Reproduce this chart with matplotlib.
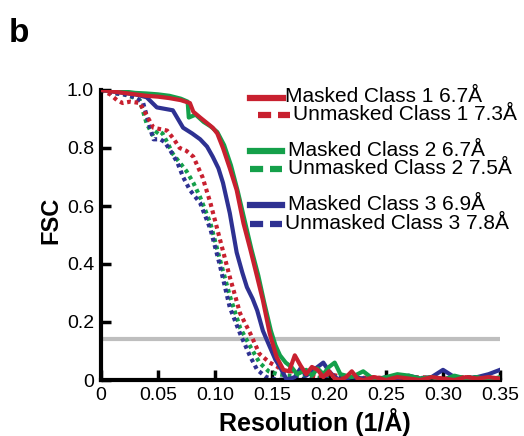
import matplotlib
matplotlib.use("Agg")
import matplotlib.pyplot as plt
from matplotlib.lines import Line2D

plt.rcParams['font.family'] = ['Liberation Sans', 'DejaVu Sans']

# FSC curves
m1_x = [0, 0.01, 0.02, 0.03, 0.04, 0.05, 0.06, 0.07, 0.078, 0.081, 0.087, 0.093, 0.098,
        0.102, 0.107, 0.113, 0.119, 0.125, 0.131, 0.137, 0.142, 0.148, 0.154, 0.160, 0.165,
        0.170, 0.175, 0.180, 0.185, 0.190, 0.195, 0.200, 0.205, 0.210, 0.215, 0.220, 0.225,
        0.230, 0.240, 0.250, 0.260, 0.270, 0.280, 0.290, 0.300, 0.310, 0.320, 0.330, 0.340, 0.350]
m1_y = [1.0, 0.995, 0.99, 0.985, 0.98, 0.977, 0.972, 0.965, 0.955, 0.925, 0.905, 0.886, 0.87,
        0.85, 0.80, 0.73, 0.655, 0.54, 0.45, 0.355, 0.275, 0.16, 0.08, 0.035, 0.03,
        0.085, 0.05, 0.02, 0.045, 0.035, 0.01, 0.03, 0.005, 0.0, 0.01, 0.03, 0.005,
        0.0, 0.01, 0.0, 0.01, 0.005, 0.0, 0.01, 0.005, 0.0, 0.01, 0.005, 0.01, 0.005]

m2_x = [0, 0.01, 0.02, 0.03, 0.04, 0.05, 0.06, 0.07, 0.076, 0.077, 0.083, 0.09, 0.096,
        0.102, 0.108, 0.114, 0.12, 0.126, 0.132, 0.138, 0.143, 0.149, 0.153, 0.157, 0.162,
        0.167, 0.172, 0.18, 0.185, 0.19, 0.195, 0.2, 0.205, 0.21, 0.22, 0.23, 0.24, 0.25,
        0.26, 0.27, 0.28, 0.29, 0.3, 0.31, 0.32, 0.33, 0.34, 0.35]
m2_y = [1.0, 0.998, 0.995, 0.99, 0.988, 0.985, 0.98, 0.97, 0.96, 0.905, 0.915, 0.89, 0.875,
        0.855, 0.81, 0.74, 0.65, 0.55, 0.45, 0.36, 0.27, 0.17, 0.12, 0.085, 0.06,
        0.045, 0.02, 0.035, 0.015, 0.04, 0.02, 0.045, 0.06, 0.02, 0.01, 0.03, 0.0, 0.01,
        0.02, 0.015, 0.005, 0.01, 0.0, 0.015, 0.005, 0.01, 0.0, 0.01]

m3_x = [0, 0.01, 0.02, 0.03, 0.04, 0.049, 0.056, 0.063, 0.072, 0.08, 0.087, 0.093, 0.098,
        0.103, 0.107, 0.113, 0.119, 0.124, 0.128, 0.133, 0.137, 0.142, 0.148, 0.153, 0.157,
        0.163, 0.17, 0.175, 0.18, 0.185, 0.19, 0.195, 0.2, 0.205, 0.21, 0.22, 0.23, 0.24,
        0.25, 0.26, 0.27, 0.28, 0.29, 0.3, 0.31, 0.32, 0.33, 0.34, 0.35]
m3_y = [1.0, 0.995, 0.99, 0.985, 0.975, 0.94, 0.935, 0.93, 0.87, 0.85, 0.83, 0.805, 0.77,
        0.73, 0.68, 0.575, 0.44, 0.37, 0.32, 0.28, 0.24, 0.17, 0.115, 0.07, 0.045,
        0.0, 0.01, 0.04, 0.015, 0.03, 0.045, 0.06, 0.03, 0.01, 0.0, 0.01, 0.005, 0.0,
        0.01, 0.005, 0.015, 0.005, 0.01, 0.035, 0.01, 0.005, 0.01, 0.02, 0.035]

u1_x = [0, 0.008, 0.014, 0.019, 0.026, 0.034, 0.039, 0.046, 0.052, 0.058, 0.064, 0.069,
        0.075, 0.081, 0.089, 0.096, 0.104, 0.113, 0.122, 0.131, 0.139, 0.148, 0.155, 0.16,
        0.17, 0.18, 0.19, 0.2, 0.22, 0.24, 0.26, 0.28, 0.3, 0.32, 0.35]
u1_y = [1.0, 0.985, 0.965, 0.955, 0.96, 0.955, 0.92, 0.87, 0.865, 0.86, 0.83, 0.80,
        0.79, 0.77, 0.70, 0.61, 0.49, 0.355, 0.23, 0.16, 0.09, 0.06, 0.045, 0.03,
        0.03, 0.02, 0.01, 0.02, 0.005, 0.01, 0.0, 0.01, 0.005, 0.01, 0.005]

u2_x = [0, 0.01, 0.02, 0.028, 0.034, 0.04, 0.046, 0.05, 0.054, 0.058, 0.063, 0.069,
        0.075, 0.081, 0.087, 0.096, 0.104, 0.113, 0.122, 0.131, 0.139, 0.147, 0.155, 0.165,
        0.18, 0.2, 0.22, 0.24, 0.26, 0.28, 0.3, 0.32, 0.35]
u2_y = [1.0, 0.99, 0.985, 0.975, 0.965, 0.885, 0.84, 0.86, 0.85, 0.82, 0.78, 0.75,
        0.72, 0.68, 0.63, 0.54, 0.42, 0.29, 0.18, 0.115, 0.06, 0.03, 0.02, 0.015,
        0.01, 0.005, 0.01, 0.0, 0.01, 0.005, 0.0, 0.01, 0.005]

u3_x = [0, 0.01, 0.02, 0.03, 0.037, 0.043, 0.046, 0.052, 0.056, 0.061, 0.067, 0.072,
        0.078, 0.087, 0.096, 0.104, 0.113, 0.122, 0.131, 0.137, 0.145, 0.155, 0.17, 0.19,
        0.21, 0.23, 0.25, 0.27, 0.29, 0.31, 0.33, 0.35]
u3_y = [1.0, 0.99, 0.985, 0.975, 0.955, 0.87, 0.83, 0.83, 0.82, 0.79, 0.75, 0.70,
        0.655, 0.61, 0.52, 0.40, 0.25, 0.16, 0.08, 0.035, 0.01, 0.0, 0.005, 0.0,
        0.01, 0.005, 0.0, 0.01, 0.005, 0.0, 0.01, 0.005]

threshold = 0.143
labels = ['Masked Class 1 6.7Å', 'Unmasked Class 1 7.3Å',
          'Masked Class 2 6.7Å', 'Unmasked Class 2 7.5Å',
          'Masked Class 3 6.9Å', 'Unmasked Class 3 7.8Å']
xticks = [0, 0.05, 0.10, 0.15, 0.20, 0.25, 0.30, 0.35]
xtick_labels = ['0', '0.05', '0.10', '0.15', '0.20', '0.25', '0.30', '0.35']
yticks = [0, 0.2, 0.4, 0.6, 0.8, 1.0]
ytick_labels = ['0', '0.2', '0.4', '0.6', '0.8', '1.0']

red = '#c8202f'
green = '#14a04a'
blue = '#2e3192'
dot = (0, (0.9, 0.9))

W, H = 524, 436
fig = plt.figure(figsize=(W / 100, H / 100), dpi=100)
ax = fig.add_axes([101 / W, 1 - 380 / H, 399 / W, 290 / H])

ax.axhline(threshold, color='#bebebe', lw=3, zorder=1)
ax.plot(u2_x, u2_y, color=green, lw=3, ls=dot, zorder=2)
ax.plot(u3_x, u3_y, color=blue, lw=3, ls=dot, zorder=2)
ax.plot(u1_x, u1_y, color=red, lw=3, ls=dot, zorder=2)
ax.plot(m3_x, m3_y, color=blue, lw=3, zorder=3)
ax.plot(m2_x, m2_y, color=green, lw=3, zorder=3)
ax.plot(m1_x, m1_y, color=red, lw=3, zorder=4)

ax.set_xlim(0, 0.35)
ax.set_ylim(0, 1.0)
ax.set_xticks(xticks)
ax.set_xticklabels(xtick_labels)
ax.set_yticks(yticks)
ax.set_yticklabels(ytick_labels)
ax.tick_params(direction='in', length=7, width=2.5, labelsize=14, pad=5)
for s in ['top', 'right']:
    ax.spines[s].set_visible(False)
for s in ['left', 'bottom']:
    ax.spines[s].set_linewidth(3)

ax.set_xlabel('Resolution (1/Å)', fontsize=18, fontweight='bold', va='baseline')
ax.xaxis.set_label_coords(0.536, -0.176)
ax.set_ylabel('FSC', fontsize=17, fontweight='bold')
ax.yaxis.set_label_coords(-0.098, 0.55)

fig.text(9 / W, 1 - 42 / H, 'b', fontsize=24, fontweight='bold')

# hand-placed legend (pixel positions)
legend_rows = [
    (250, 283, 98, 285, red, '-'),
    (258, 290, 115, 293, red, '--'),
    (250, 282, 151, 288, green, '-'),
    (250, 282, 169, 288, green, '--'),
    (250, 282, 205, 288, blue, '-'),
    (250, 282, 224, 285, blue, '--'),
]
for (x0, x1, y, tx, c, ls), lab in zip(legend_rows, labels):
    dashes = (0, (2.1, 1.1)) if ls == '--' else '-'
    fig.add_artist(Line2D([x0 / W, x1 / W], [1 - y / H, 1 - y / H], color=c, lw=4.5,
                          ls=dashes, transform=fig.transFigure))
    fig.text(tx / W, 1 - (y - 1) / H, lab, fontsize=15, va='center', ha='left')

fig.savefig('out.png', dpi=100)
